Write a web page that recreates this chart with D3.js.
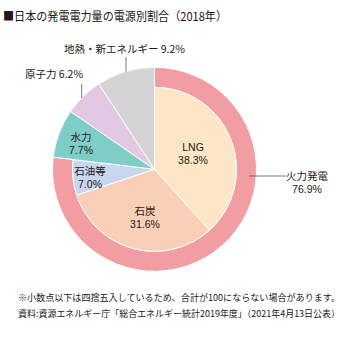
<!DOCTYPE html>
<html><head><meta charset="utf-8">
<script src="https://cdn.jsdelivr.net/npm/d3@7/dist/d3.min.js"></script>
<style>
html,body{margin:0;padding:0;background:#fff;}
text{font-family:"Noto Sans CJK JP","Noto Sans",sans-serif;fill:#231815;}
text.num{font-family:"Liberation Sans",Arial,sans-serif;}
</style></head>
<body>
<svg id="c" width="356" height="343"></svg>
<script>
const title = "■日本の発電電力量の電源別割合（2018年）";
const sources = ["LNG", "石炭", "石油等", "水力", "原子力", "地熱・新エネルギー"];
const shares = [38.3, 31.6, 7.0, 7.7, 6.2, 9.2];
const isThermal = [true, true, true, false, false, false];
const colors = ["#fde6c6", "#f9cfb8", "#c8d6ee", "#7fcdc7", "#e2c8e2", "#d4d4d4"];
const thermalName = "火力発電";
const thermalShare = 76.9;
const notes = ["※小数点以下は四捨五入しているため、合計が100にならない場合があります。",
  "資料:資源エネルギー庁「総合エネルギー統計2019年度」（2021年4月13日公表）"];

const svg = d3.select("#c");
const cx = 154.5, cy = 169.3, R = 102, r = 82;
const g = svg.append("g").attr("transform", `translate(${cx},${cy})`);

svg.append("text").attr("x", 3).attr("y", 21).attr("font-size", 12)
  .attr("textLength", 224).attr("lengthAdjust", "spacingAndGlyphs").text(title);

const pie = d3.pie().sort(null).value(d => d.v);
const data = sources.map((s, i) => ({ s, v: shares[i], t: isThermal[i], c: colors[i] }));
const arcs = pie(data);

// thermal ring
const total = d3.sum(shares);
const ringEnd = thermalShare / total * 2 * Math.PI;
g.append("path")
  .attr("d", d3.arc().innerRadius(r).outerRadius(R)({ startAngle: 0, endAngle: ringEnd }))
  .attr("fill", "#f29da1").attr("stroke", "#fff").attr("stroke-width", 1);

g.selectAll("path.slice").data(arcs).join("path").attr("class", "slice")
  .attr("d", d => d3.arc().innerRadius(0).outerRadius(d.data.t ? r : R)(d))
  .attr("fill", d => d.data.c).attr("stroke", "#fff").attr("stroke-width", 1);

const fmt = v => v.toFixed(1) + "%";
function label(x, y, lines, anchor) {
  lines.forEach((l, i) => svg.append("text").attr("font-size", 10.5)
    .attr("class", /^[A-Z0-9.%]+$/.test(l) ? "num" : null)
    .attr("text-anchor", anchor || "middle").attr("x", x).attr("y", y + i * 12.5).text(l));
}
label(193, 151, [sources[0], fmt(shares[0])]);
label(145, 215, [sources[1], fmt(shares[1])]);
label(90, 175, [sources[2], fmt(shares[2])]);
label(81, 141, [sources[3], fmt(shares[3])]);
label(25, 78, [sources[4] + " " + fmt(shares[4])], "start");
label(124.5, 53, [sources[5] + " " + fmt(shares[5])]);
label(307, 180, [thermalName, fmt(thermalShare)]);

// leader lines
const ln = (x1, y1, x2, y2) => svg.append("line").attr("x1", x1).attr("y1", y1).attr("x2", x2).attr("y2", y2)
  .attr("stroke", "#555").attr("stroke-width", 0.8);
ln(126, 57, 126, 71.5);
ln(81.7, 84, 81.7, 98);
ln(249, 176, 286, 176);

notes.forEach((n, i) => svg.append("text").attr("x", 18).attr("y", 301 + i * 16).attr("font-size", 9)
  .attr("textLength", 322).attr("lengthAdjust", "spacingAndGlyphs").text(n));
</script>
</body></html>
